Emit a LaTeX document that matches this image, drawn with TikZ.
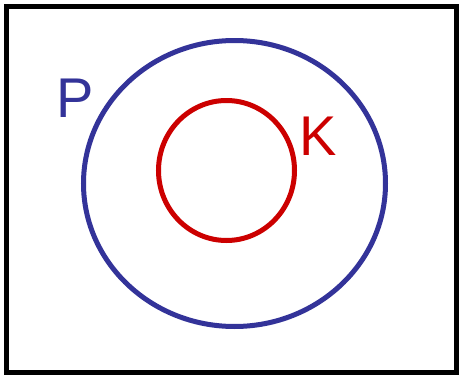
\documentclass[tikz,border=0pt]{standalone}
\usepackage{fontspec}
\setmainfont{Liberation Sans}
\definecolor{pblue}{RGB}{51,51,153}
\definecolor{kred}{RGB}{204,0,0}
\begin{document}
\begin{tikzpicture}[x=1pt,y=-1pt,
  setline/.style={line width=5pt},
  lbl/.style={font=\fontsize{56}{56}\selectfont, anchor=base, inner sep=0pt}]
\useasboundingbox (0,0) rectangle (459,375);
\fill[white] (0,0) rectangle (459,375);
\draw[line width=5pt] (6.5,6.5) rectangle (456.5,372.5);
\draw[setline, pblue] (234.5,183.5) ellipse [x radius=151, y radius=143];
\draw[setline, kred] (226.5,170.5) ellipse [x radius=68, y radius=70];
\node[lbl, text=pblue] (P) at (75,117) {P};
\node[lbl, text=kred] (K) at (318,155) {K};
\end{tikzpicture}
\end{document}
